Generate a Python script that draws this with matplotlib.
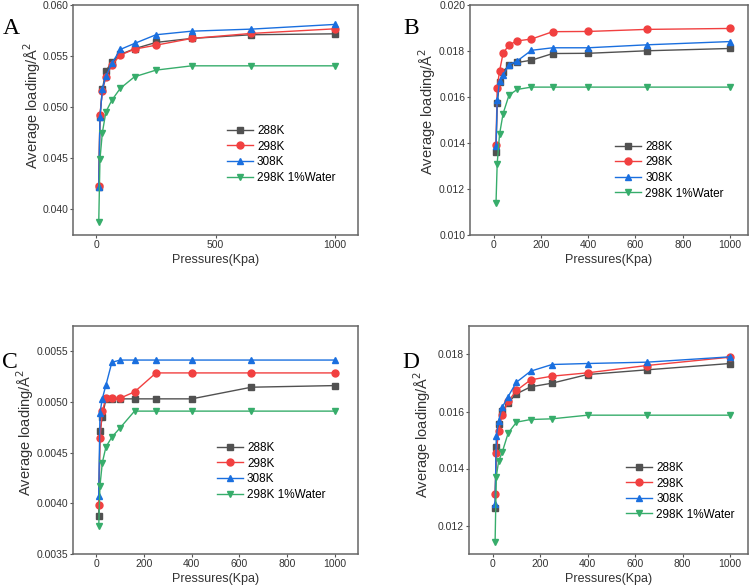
import matplotlib
matplotlib.use("Agg")
import matplotlib.pyplot as plt
import numpy as np

plt.rcParams['font.family'] = ['Liberation Sans', 'DejaVu Sans']

pressures = [10, 15, 25, 40, 65, 100, 160, 250, 400, 650, 1000]
series_labels = ["288K", "298K", "308K", "298K 1%Water"]

a_288 = [0.04222, 0.04906, 0.05174, 0.05356, 0.05441, 0.05516, 0.05572, 0.05634, 0.05673, 0.05709, 0.05718]
a_298 = [0.04228, 0.04923, 0.05157, 0.05298, 0.05412, 0.05510, 0.05568, 0.05607, 0.05673, 0.05722, 0.05767]
a_308 = [0.04222, 0.04900, 0.05174, 0.05304, 0.05428, 0.05565, 0.05624, 0.05709, 0.05744, 0.05764, 0.05810]
a_wat = [0.03879, 0.04489, 0.04750, 0.04955, 0.05069, 0.05184, 0.05298, 0.05363, 0.05405, 0.05405, 0.05405]

b_288 = [0.01360, 0.01572, 0.01665, 0.01709, 0.01739, 0.01750, 0.01760, 0.01789, 0.01790, 0.01801, 0.01811]
b_298 = [0.01390, 0.01640, 0.01713, 0.01790, 0.01827, 0.01844, 0.01852, 0.01884, 0.01885, 0.01894, 0.01898]
b_308 = [0.01386, 0.01585, 0.01670, 0.01696, 0.01740, 0.01757, 0.01803, 0.01814, 0.01814, 0.01827, 0.01841]
b_wat = [0.01138, 0.01310, 0.01438, 0.01528, 0.01608, 0.01633, 0.01643, 0.01643, 0.01643, 0.01643, 0.01643]

c_288 = [0.003874, 0.004713, 0.004854, 0.005031, 0.005031, 0.005031, 0.005031, 0.005031, 0.005031, 0.005146, 0.005162]
c_298 = [0.003982, 0.004641, 0.004910, 0.005038, 0.005038, 0.005038, 0.005100, 0.005287, 0.005287, 0.005287, 0.005287]
c_308 = [0.004074, 0.004893, 0.005034, 0.005166, 0.005392, 0.005414, 0.005414, 0.005414, 0.005414, 0.005414, 0.005414]
c_wat = [0.003779, 0.004172, 0.004402, 0.004556, 0.004654, 0.004746, 0.004910, 0.004910, 0.004910, 0.004910, 0.004910]

d_288 = [0.012608, 0.014760, 0.015544, 0.016012, 0.016304, 0.016620, 0.016865, 0.016994, 0.017298, 0.017462, 0.017684]
d_298 = [0.013088, 0.014538, 0.015333, 0.015883, 0.016351, 0.016737, 0.017111, 0.017240, 0.017357, 0.017614, 0.017906]
d_308 = [0.012737, 0.015123, 0.015684, 0.016152, 0.016526, 0.017029, 0.017415, 0.017649, 0.017684, 0.017731, 0.017918]
d_wat = [0.011415, 0.013719, 0.014257, 0.014573, 0.015240, 0.015626, 0.015719, 0.015743, 0.015871, 0.015871, 0.015871]

colors = ["#515151", "#F14040", "#1A6FDF", "#37AD6B"]
markers = ["s", "o", "^", "v"]

W, H = 756, 587
fig = plt.figure(figsize=(W / 100, H / 100), dpi=100)

def px_axes(left, top, right, bottom):
    return fig.add_axes([left / W, (H - bottom) / H, (right - left) / W, (bottom - top) / H])

panels = [
    dict(letter="A", box=(73, 5, 358, 235), data=[a_288, a_298, a_308, a_wat],
         xlim=(-98, 1097), xticks=[0, 500, 1000], ylim=(0.0375, 0.060),
         yticks=np.arange(0.040, 0.0601, 0.005), fmt="{:.3f}", leg=(0.54, 0.478), lpos=(3, 28),
         ylab=(-0.105, 0.565)),
    dict(letter="B", box=(470, 5, 748, 235), data=[b_288, b_298, b_308, b_wat],
         xlim=(-100, 1076), xticks=[0, 200, 400, 600, 800, 1000], ylim=(0.010, 0.020),
         yticks=np.arange(0.010, 0.0201, 0.002), fmt="{:.3f}", leg=(0.522, 0.409), lpos=(403, 28),
         ylab=(-0.115, 0.535)),
    dict(letter="C", box=(73, 326, 358, 554), data=[c_288, c_298, c_308, c_wat],
         xlim=(-98, 1097), xticks=[0, 200, 400, 600, 800, 1000], ylim=(0.0035, 0.00575),
         yticks=np.arange(0.0035, 0.00551, 0.0005), fmt="{:.4f}", leg=(0.505, 0.491), lpos=(2, 363),
         ylab=(-0.130, 0.535)),
    dict(letter="D", box=(469, 326, 748, 554), data=[d_288, d_298, d_308, d_wat],
         xlim=(-100, 1076), xticks=[0, 200, 400, 600, 800, 1000], ylim=(0.011, 0.019),
         yticks=np.arange(0.012, 0.0181, 0.002), fmt="{:.3f}", leg=(0.563, 0.4035), lpos=(402, 363),
         ylab=(-0.129, 0.525)),
]

for p in panels:
    ax = px_axes(*p["box"])
    for vals, c, m, lab in zip(p["data"], colors, markers, series_labels):
        ax.plot(pressures, vals, color=c, marker=m, markersize=5, lw=1.0, label=lab)
    ax.set_xlim(*p["xlim"])
    ax.set_ylim(*p["ylim"])
    ax.set_xticks(p["xticks"])
    ax.set_yticks(p["yticks"])
    ax.set_yticklabels([p["fmt"].format(v) for v in p["yticks"]])
    ax.tick_params(labelsize=7.5, direction="out", length=2, width=0.8, pad=1.5,
                   colors="#555555", labelcolor="#333333")
    for s in ax.spines.values():
        s.set_color("#666666")
        s.set_linewidth(1.1)
    ax.set_xlabel("Pressures(Kpa)", fontsize=9, color="#333333", labelpad=3)
    ax.set_ylabel("Average loading/Å$^2$", fontsize=10.5, color="#333333")
    ax.yaxis.set_label_coords(*p["ylab"])
    ax.legend(loc="upper left", bbox_to_anchor=p["leg"], frameon=False, fontsize=8.5,
              borderpad=0, borderaxespad=0, handlelength=2.2, handletextpad=0.35, labelspacing=0.3)
    fig.text(p["lpos"][0] / W, 1 - p["lpos"][1] / H, p["letter"], fontsize=17,
             family="Liberation Serif", va="center", ha="left")

fig.savefig("out.png", dpi=100)
